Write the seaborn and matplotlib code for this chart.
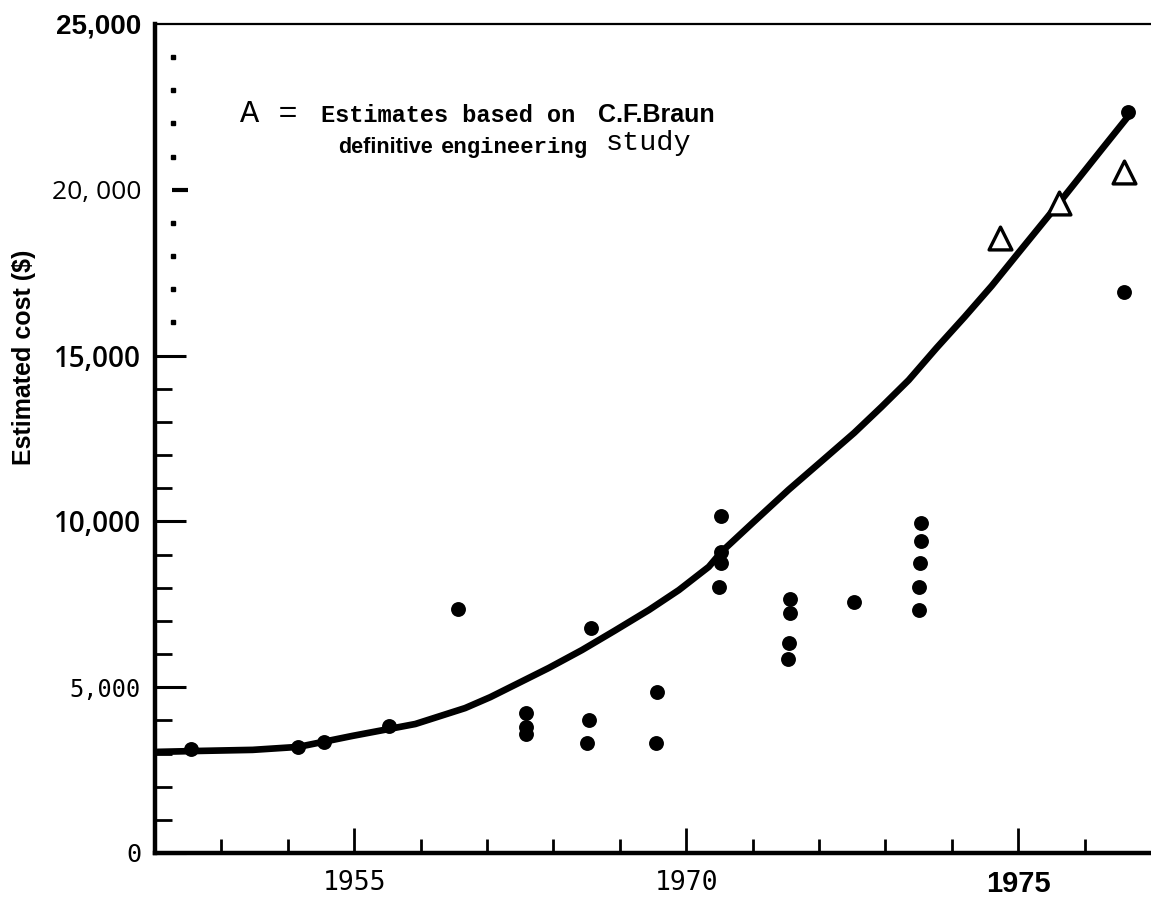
import matplotlib
matplotlib.use("Agg")
import matplotlib.pyplot as plt
import matplotlib.transforms as mtransforms
from matplotlib.ticker import FixedLocator
import pandas as pd
import seaborn as sns

W, H, DPI = 1151, 899, 100

# ── Data ────────────────────────────────────────────────────────────────────
# hand-drawn trend line
curve_year = [1962.04, 1962.71, 1963.47, 1964.16, 1964.97, 1965.92, 1966.67,
              1967.05, 1967.42, 1967.93, 1968.43, 1968.92, 1969.44, 1969.89,
              1970.34, 1970.53, 1971.03, 1971.54, 1972.03, 1972.53, 1972.94,
              1973.35, 1973.77, 1974.19, 1974.60, 1975.00, 1975.65, 1976.25,
              1976.65]
curve_cost = [3050, 3080, 3110, 3200, 3530, 3890, 4370,
              4700, 5070, 5580, 6120, 6700, 7330, 7930,
              8630, 9080, 10010, 10950, 11800, 12670, 13450,
              14260, 15230, 16160, 17100, 18090, 19690, 21200,
              22200]

# published estimates (filled dots)
dot_year = [1962.54, 1964.16, 1964.55, 1965.53, 1966.56,
            1967.58, 1967.58, 1967.58, 1968.56, 1968.53, 1968.50,
            1969.56, 1969.54,
            1970.53, 1970.53, 1970.53, 1970.50,
            1971.57, 1971.57, 1971.55, 1971.54,
            1972.53,
            1973.54, 1973.54, 1973.52, 1973.50, 1973.50,
            1976.65, 1976.60]
dot_cost = [3140, 3200, 3350, 3830, 7360,
            4220, 3800, 3600, 6790, 4010, 3320,
            4860, 3320,
            10160, 9080, 8750, 8020,
            7660, 7240, 6330, 5850,
            7570,
            9950, 9410, 8750, 8020, 7330,
            22350, 16920]

# C.F. Braun estimates (open triangles)
tri_year = [1974.73, 1975.62, 1976.60]
tri_cost = [18550, 19600, 20540]

x_ticks = [1965, 1970, 1975]
x_labels = ["1955", "1970", "1975"]
x_minor = [1963, 1964, 1966, 1967, 1968, 1969, 1971, 1972, 1973, 1974, 1976]

y_ticks = [0, 5000, 10000, 15000, 20000, 25000]
y_labels = ["0", "5,000", "10,000", "15,000", "20, 000", "25,000"]
y_minor = [1000, 2000, 3000, 4000, 6000, 7000, 8000, 9000,
           11000, 12000, 13000, 14000]
y_faint = [16000, 17000, 18000, 19000, 21000, 22000, 23000, 24000]

# ── Figure ──────────────────────────────────────────────────────────────────
sns.set_style("ticks")
plt.rcParams["font.family"] = ["DejaVu Sans"]
plt.rcParams["text.color"] = "black"
plt.rcParams["axes.edgecolor"] = "black"
plt.rcParams["xtick.color"] = "black"
plt.rcParams["ytick.color"] = "black"

fig = plt.figure(figsize=(W / DPI, H / DPI), dpi=DPI)
ax = fig.add_axes([155 / W, 1 - 853 / H, 996 / W, (853 - 24) / H])


def px(x, y):
    return x / W, 1 - y / H


curve = pd.DataFrame({"year": curve_year, "cost": curve_cost})
dots = pd.DataFrame({"year": dot_year, "cost": dot_cost})
tris = pd.DataFrame({"year": tri_year, "cost": tri_cost})

sns.lineplot(data=curve, x="year", y="cost", ax=ax, color="black",
             linewidth=4.8, sort=True, estimator=None, solid_joinstyle="round",
             solid_capstyle="round")
sns.scatterplot(data=dots, x="year", y="cost", ax=ax, color="black",
                s=115, marker="o", edgecolor="black", linewidth=0, zorder=3)
ax.scatter(tris["year"], tris["cost"], marker="^", s=270, facecolors="white",
           edgecolors="black", linewidths=2.4, zorder=4)

ax.set_xlim(1962.0, 1977.0)
ax.set_ylim(0, 25000)
ax.set_xlabel("")
ax.set_ylabel("")

# spines
for side in ["left", "bottom"]:
    ax.spines[side].set_linewidth(3.2)
ax.spines["top"].set_linewidth(1.6)
ax.spines["right"].set_visible(False)

# ticks
ax.xaxis.set_major_locator(FixedLocator(x_ticks))
ax.xaxis.set_minor_locator(FixedLocator(x_minor))
ax.set_xticklabels(x_labels)
ax.yaxis.set_major_locator(FixedLocator(y_ticks))
ax.yaxis.set_minor_locator(FixedLocator(y_minor))
ax.set_yticklabels(y_labels)

ax.tick_params(axis="x", which="major", direction="in", length=18, width=2,
               pad=12, top=False)
ax.tick_params(axis="x", which="minor", direction="in", length=10, width=2,
               top=False)
ax.tick_params(axis="y", which="major", direction="in", length=22, width=2.2,
               pad=10, right=False)
ax.tick_params(axis="y", which="minor", direction="in", length=12, width=2,
               right=False)

# 20,000 / 25,000 have no tick line in the scan
for t in ax.yaxis.get_major_ticks()[4:]:
    t.tick1line.set_visible(False)

# faint dotted minor ticks near the top, plus the short 20,000 dash
blend = mtransforms.blended_transform_factory(ax.transAxes, ax.transData)
ax.plot([0.018] * len(y_faint), y_faint, transform=blend, ls="none",
        marker="s", ms=3, color="black", clip_on=False)
ax.plot([0.0255], [20000], transform=blend, ls="none", marker="_", ms=12,
        mew=3, color="black", clip_on=False)

# mixed typefaces of the scanned tick labels
x_fonts = [("DejaVu Sans Mono", "normal", 19),
           ("DejaVu Sans Mono", "normal", 19),
           ("Liberation Sans", "bold", 21)]
for lab, (fam, wt, sz) in zip(ax.get_xticklabels(), x_fonts):
    lab.set_fontfamily(fam)
    lab.set_fontweight(wt)
    lab.set_fontsize(sz)

y_fonts = [("DejaVu Sans Mono", "normal", 18),
           ("DejaVu Sans Mono", "normal", 17),
           ("Open Sans", "semibold", 20),
           ("Open Sans", "semibold", 20),
           ("Open Sans", "normal", 19),
           ("Liberation Sans", "bold", 20)]
for lab, (fam, wt, sz) in zip(ax.get_yticklabels(), y_fonts):
    lab.set_fontfamily(fam)
    lab.set_fontweight(wt)
    lab.set_fontsize(sz)
    lab.set_color("black")

# y axis title
fig.text(*px(24, 357), "Estimated cost ($)", rotation=90, ha="center",
         va="center", fontsize=18, fontweight="bold", family="Liberation Sans")

# legend note
note = [
    ("A =", 240, 122, "Liberation Mono", "normal", 23),
    ("Estimates based on", 321, 122, "Liberation Mono", "bold", 17),
    ("C.F.Braun", 598, 122, "Liberation Sans", "bold", 18),
    ("definitive", 338, 153, "Liberation Sans", "bold", 15.5),
    ("engineering", 441, 153, "Liberation Mono", "bold", 16),
    ("study", 606, 150, "Liberation Mono", "normal", 20.5),
]
for txt, x, y, fam, wt, sz in note:
    fig.text(*px(x, y), txt, ha="left", va="baseline", family=fam,
             fontweight=wt, fontsize=sz, color="black")

fig.savefig("out.png", dpi=DPI)
